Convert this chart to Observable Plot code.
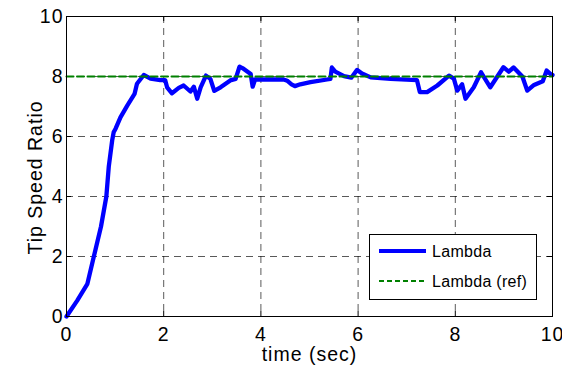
<!DOCTYPE html>
<html>
<head>
<meta charset="utf-8">
<script src="https://cdn.jsdelivr.net/npm/d3@7"></script>
<script src="https://cdn.jsdelivr.net/npm/@observablehq/plot@0.6"></script>
<style>
  html, body { margin: 0; padding: 0; background: #fff; }
  #wrap { position: relative; width: 562px; height: 375px; overflow: hidden; }
  #legend { position: absolute; left: 369px; top: 234px; }
</style>
</head>
<body>
<div id="wrap"></div>
<script>
// time (sec)
const time = [0, 0.22, 0.43, 0.56, 0.71, 0.82, 0.87, 0.94, 0.97, 1.01, 1.11, 1.25, 1.40, 1.45, 1.59, 1.73, 1.93, 2.03, 2.07, 2.17, 2.31, 2.41, 2.55, 2.62, 2.69, 2.76, 2.87, 2.96, 3.04, 3.17, 3.37, 3.48, 3.56, 3.62, 3.79, 3.83, 3.88, 4.0, 4.47, 4.54, 4.63, 4.7, 4.81, 5.02, 5.36, 5.43, 5.46, 5.53, 5.71, 5.86, 5.98, 6.08, 6.26, 6.67, 7.21, 7.27, 7.42, 7.63, 7.87, 7.97, 8.04, 8.14, 8.21, 8.38, 8.53, 8.72, 8.99, 9.1, 9.2, 9.38, 9.48, 9.62, 9.8, 9.88, 9.96, 10];
// Lambda (tip speed ratio)
const lambda = [0, 0.53, 1.09, 1.98, 3.0, 4.0, 5.0, 5.87, 6.14, 6.26, 6.64, 7.03, 7.42, 7.76, 8.05, 7.93, 7.88, 7.88, 7.64, 7.44, 7.62, 7.7, 7.5, 7.66, 7.26, 7.64, 8.03, 7.92, 7.52, 7.64, 7.87, 7.92, 8.33, 8.28, 8.08, 7.66, 7.9, 7.9, 7.9, 7.86, 7.74, 7.68, 7.74, 7.81, 7.9, 7.92, 8.3, 8.16, 8.01, 7.96, 8.22, 8.1, 7.97, 7.92, 7.88, 7.48, 7.48, 7.7, 8.03, 7.93, 7.53, 7.74, 7.26, 7.64, 8.14, 7.64, 8.31, 8.16, 8.3, 8.0, 7.53, 7.72, 7.84, 8.2, 8.08, 8.05];
// Lambda (ref)
const refTime = [0, 10];
const refLambda = [8, 8];
// ticks
const xTicks = [0, 2, 4, 6, 8, 10];
const yTicks = [0, 2, 4, 6, 8, 10];
const gridTicks = [2, 4, 6, 8];
const legendLabels = ["Lambda", "Lambda (ref)"];

const lam = time.map((t, i) => ({t, v: lambda[i]}));
const ref = refTime.map((t, i) => ({t, v: refLambda[i]}));

const font = "'Liberation Sans', Arial, sans-serif";
const chart = Plot.plot({
  width: 562,
  height: 375,
  marginLeft: 66,
  marginRight: 10,
  marginTop: 16,
  marginBottom: 59,
  style: {background: "#fff", fontFamily: font, fontSize: "19.5px", letterSpacing: "1px", color: "#000", overflow: "visible"},
  x: {domain: [0, 10], ticks: xTicks, tickSize: 0, tickPadding: 11, label: null, tickFormat: d => String(d)},
  y: {domain: [0, 10], ticks: yTicks, tickSize: 0, tickPadding: 3, label: null, tickFormat: d => String(d)},
  marks: [
    Plot.ruleX(gridTicks, {stroke: "#000", strokeOpacity: 0.65, strokeDasharray: "7,5"}),
    Plot.ruleY(gridTicks, {stroke: "#000", strokeOpacity: 0.65, strokeDasharray: "7,5"}),
    Plot.ruleX(xTicks, {stroke: "#000", insetTop: 295}),
    Plot.ruleX(xTicks, {stroke: "#000", insetBottom: 295}),
    Plot.ruleY(yTicks, {stroke: "#000", insetRight: 481}),
    Plot.ruleY(yTicks, {stroke: "#000", insetLeft: 481}),
    Plot.line(lam, {x: "t", y: "v", stroke: "#0000ff", strokeWidth: 4.3, strokeLinejoin: "round", strokeLinecap: "round"}),
    Plot.line(ref, {x: "t", y: "v", stroke: "#008000", strokeWidth: 2, strokeDasharray: "7,3.5"}),
    Plot.frame({stroke: "#000", strokeWidth: 1}),
    Plot.text(["time (sec)"], {frameAnchor: "bottom", textAnchor: "middle", dy: 44, fontSize: 19.5, fill: "#000"}),
    Plot.text(["Tip Speed Ratio"], {frameAnchor: "left", textAnchor: "middle", dx: -31, dy: 11, rotate: -90, fontSize: 19.5, fill: "#000"})
  ]
});

const wrap = document.getElementById("wrap");
wrap.appendChild(chart);

// legend
const ns = "http://www.w3.org/2000/svg";
const lg = document.createElementNS(ns, "svg");
lg.setAttribute("id", "legend");
lg.setAttribute("width", 169);
lg.setAttribute("height", 67);
lg.innerHTML = `
  <rect x="0.5" y="0.5" width="167" height="65" fill="#fff" stroke="#000" stroke-width="1"/>
  <line x1="10" x2="57" y1="17" y2="17" stroke="#0000ff" stroke-width="4"/>
  <line x1="10" x2="57" y1="47" y2="47" stroke="#008000" stroke-width="2" stroke-dasharray="5,3"/>
  <text x="63" y="17" dy="0.35em" font-family="${font}" font-size="16" letter-spacing="0.3" fill="#000">${legendLabels[0]}</text>
  <text x="63" y="47" dy="0.35em" font-family="${font}" font-size="16" letter-spacing="0.3" fill="#000">${legendLabels[1]}</text>`;
wrap.appendChild(lg);
</script>
</body>
</html>
